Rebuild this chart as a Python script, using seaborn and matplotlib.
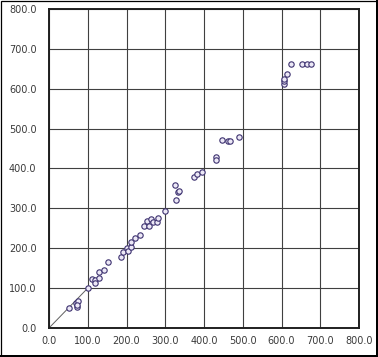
import matplotlib
matplotlib.use("Agg")
import matplotlib.pyplot as plt
import seaborn as sns
import pandas as pd
from matplotlib.patches import Rectangle

# values
x_vals = [52, 70, 75, 71, 73, 100, 111, 118, 119, 128, 130, 143, 151, 185, 190,
          200, 203, 211, 212, 223, 235, 246, 252, 259, 262, 269, 278, 280, 300,
          325, 329, 332, 336, 374, 383, 396, 430, 430, 447, 461, 468, 490,
          606, 606, 607, 613, 625, 653, 665, 675]
y_vals = [51, 63, 68, 53, 58, 100, 123, 120, 112, 126, 141, 146, 165, 178, 190,
          200, 193, 204, 215, 225, 233, 256, 269, 256, 273, 265, 265, 277, 294,
          358, 322, 340, 343, 379, 385, 390, 430, 422, 471, 470, 470, 480,
          613, 620, 625, 637, 663, 663, 663, 663]
ref_x = [0, 100]
ref_y = [0, 100]
ticks = [0, 100, 200, 300, 400, 500, 600, 700, 800]
tick_labels = ["%.1f" % t for t in ticks]

df = pd.DataFrame({"x": x_vals, "y": y_vals})

sns.set_style("white")
fig = plt.figure(figsize=(3.78, 3.57), dpi=100)
ax = fig.add_axes([49 / 378, 1 - 328 / 357, 310 / 378, 319 / 357])

sns.lineplot(x=ref_x, y=ref_y, ax=ax, color="#606060", linewidth=0.7)
sns.scatterplot(data=df, x="x", y="y", ax=ax, marker="o", s=15,
                facecolor="#ece8f6", edgecolor="#3d3270", linewidth=0.8, zorder=3)

ax.set_xlim(0, 800)
ax.set_ylim(0, 800)
ax.set_xticks(ticks)
ax.set_yticks(ticks)
ax.set_xticklabels(tick_labels)
ax.set_yticklabels(tick_labels)
ax.tick_params(axis="both", length=0, labelsize=7, labelcolor="#3a3a3a")
ax.tick_params(axis="x", pad=6)
ax.tick_params(axis="y", pad=9)
ax.grid(True, color="#404040", linewidth=0.8)
ax.set_axisbelow(True)
ax.set_xlabel("")
ax.set_ylabel("")
for side in ["top", "right", "bottom", "left"]:
    ax.spines[side].set_visible(True)
    ax.spines[side].set_color("#202020")
    ax.spines[side].set_linewidth(1.4)

# outer frame, heavier on the right and bottom
fig.patches.append(Rectangle((0.0015, 0.0015), 0.996, 0.996, transform=fig.transFigure,
                             fill=False, edgecolor="black", linewidth=0.9))
fig.patches.append(Rectangle((0.0, 0.0), 1.0, 0.0065, transform=fig.transFigure,
                             facecolor="black", edgecolor="none"))
fig.patches.append(Rectangle((0.9935, 0.0), 0.0065, 1.0, transform=fig.transFigure,
                             facecolor="black", edgecolor="none"))

fig.savefig("out.png", dpi=100)
